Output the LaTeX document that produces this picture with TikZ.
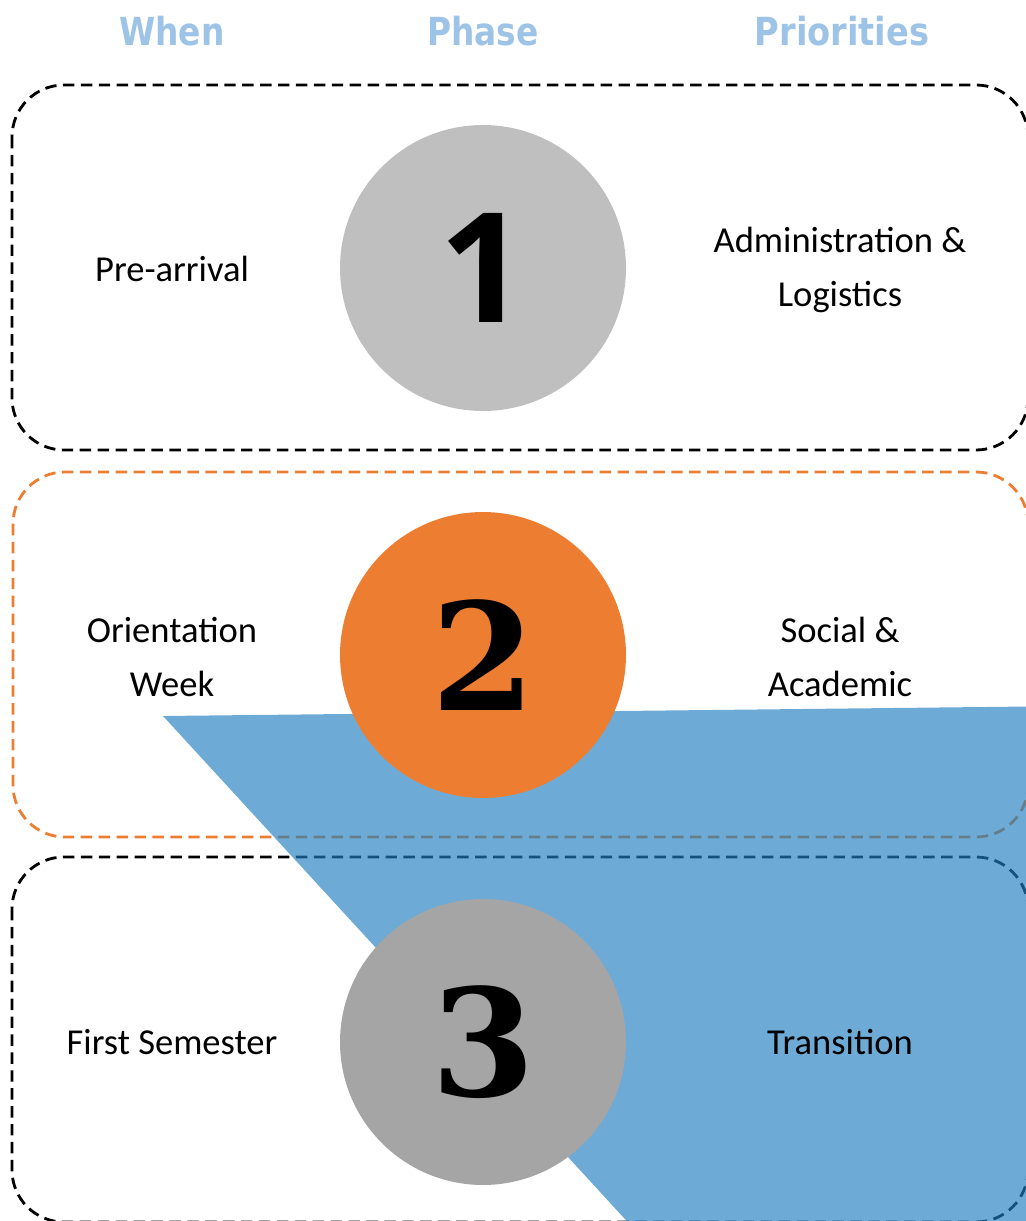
\documentclass[tikz,border=0pt]{standalone}
\usepackage{fontspec}
\setmainfont{Carlito}
\newfontfamily\headfont{DejaVu Sans}
\newfontfamily\onefont{Open Sans}
\newfontfamily\digitfont{DejaVu Serif}

\definecolor{headblue}{RGB}{157,195,230}
\definecolor{bandblue}{RGB}{31,125,190}
\definecolor{phaseone}{RGB}{191,191,191}
\definecolor{phasetwo}{RGB}{237,125,49}
\definecolor{phasethree}{RGB}{165,165,165}

\tikzset{
    heading/.style={text=headblue, font=\headfont\bfseries\fontsize{22}{26}\selectfont},
    celltext/.style={align=center, font=\fontsize{20.8}{30.7}\selectfont},
    phasebox/.style={draw, line width=1.6pt, dash pattern=on 6.5pt off 3.7pt, rounded corners=1.04cm},
    phasedot/.style={circle, minimum size=5.72cm, inner sep=0pt},
    bignum/.style={font=\digitfont\bfseries\fontsize{85}{85}\selectfont},
    onenum/.style={font=\onefont\bfseries\fontsize{87}{87}\selectfont},
}

\begin{document}
\begin{tikzpicture}[x=0.02cm, y=-0.02cm]
    \useasboundingbox (0,0) rectangle (1025,1221);

    % Column headings
    \node[heading] (when) at (172,31) {\scalebox{0.85}[1]{When}};
    \node[heading] (phase) at (483,31) {\scalebox{0.85}[1]{Phase}};
    \node[heading] (prio) at (842,31) {\scalebox{0.87}[1]{Priorities}};

    % Dashed frames
    \draw[phasebox, black] (12,85) rectangle (1028,450);
    \draw[phasebox, phasetwo] (13,472) rectangle (1028,837);
    \draw[phasebox, black] (12,857) rectangle (1028,1222);

    % Blue band behind the lower phases
    \fill[bandblue, fill opacity=0.65] (163,716) -- (1030,706.5) -- (1030,1230) -- (635,1230) -- cycle;

    % Phase circles
    \node[phasedot, fill=phaseone, onenum] (one) at (483,268) {1};
    \node[phasedot, fill=phasetwo, bignum] (two) at (483,655) {2};
    \node[phasedot, fill=phasethree, bignum] (three) at (483,1042) {3};

    % When
    \node[celltext] (prearr) at (172,269) {Pre-arrival};
    \node[celltext] (orient) at (172,657) {Orientation\\Week};
    \node[celltext] (semester) at (172,1042) {First Semester};

    % Priorities
    \node[celltext] (admin) at (840,270) {Administration \&\\Logistics};
    \node[celltext] (social) at (840,657) {Social \&\\Academic};
    \node[celltext] (trans) at (840,1042) {Transition};
\end{tikzpicture}
\end{document}
